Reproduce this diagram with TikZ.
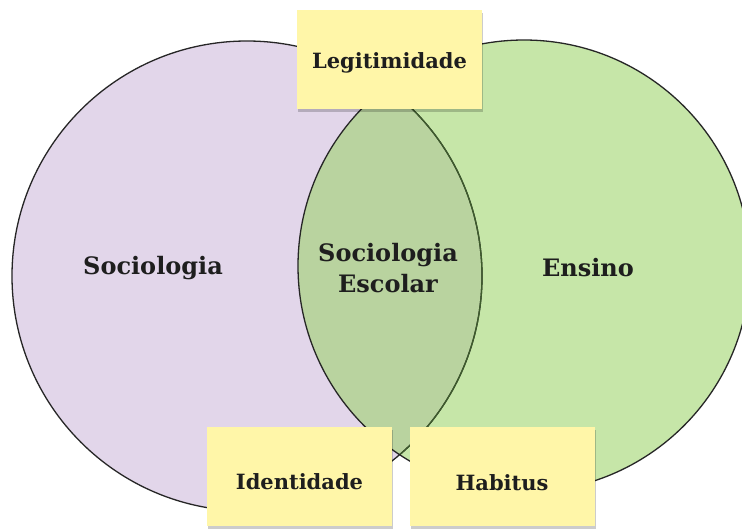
\documentclass[tikz,border=0pt]{standalone}
\usepackage{fontspec}
\setmainfont{DejaVu Serif}
\usetikzlibrary{shadows}
\definecolor{purp}{HTML}{E2D6EA}
\definecolor{grn}{HTML}{C6E6A8}
\definecolor{lensc}{HTML}{B9D39F}
\definecolor{notec}{HTML}{FFF6A8}
\definecolor{dkgrn}{HTML}{3E5C2C}
\definecolor{txt}{HTML}{1E1E1E}
\tikzset{
  outline/.style={line width=1.3pt, draw=black!85},
  lbl/.style={font=\bfseries\fontsize{24}{30}\selectfont, text=txt, align=center},
  notebox/.style={fill=notec, minimum width=185pt, minimum height=99pt, inner sep=0pt,
    drop shadow={shadow xshift=1pt, shadow yshift=-3pt, opacity=0.2, fill=black}},
  notetext/.style={font=\bfseries\fontsize{21}{26}\selectfont, text=txt}
}
\begin{document}
\begin{tikzpicture}[x=1pt,y=-1pt]
\useasboundingbox (0,0) rectangle (742,528);
\fill[white] (0,0) rectangle (742,528);
\coordinate (cL) at (247,276);
\coordinate (cR) at (524,266);
% fills
\fill[purp] (cL) circle[radius=235pt];
\fill[grn] (cR) circle[radius=226pt];
\begin{scope}
  \clip (cL) circle[radius=235pt];
  \fill[lensc] (cR) circle[radius=226pt];
\end{scope}
% outlines
\draw[outline] (cL) circle[radius=235pt];
\begin{scope}
  \clip (cR) circle[radius=226pt];
  \draw[line width=1.3pt, draw=dkgrn] (cL) circle[radius=235pt];
\end{scope}
\draw[outline] (cR) circle[radius=226pt];
% labels
\node[lbl] (soc) at (153,268) {Sociologia};
\node[lbl] (ens) at (588,268) {Ensino};
\node[lbl] (socesc) at (388,268) {Sociologia\\[1pt]Escolar};
% sticky notes
\node[notebox] (leg) at (389.5,59.5) {};
\node[notebox] (ide) at (299.5,476.5) {};
\node[notebox] (hab) at (502,476.5) {};
\node[notetext] (legt) at ([yshift=-3pt]leg.center) {Legitimidade};
\node[notetext] (idet) at ([yshift=-5pt]ide.center) {Identidade};
\node[notetext] (habt) at ([yshift=-6pt]hab.center) {Habitus};
\end{tikzpicture}
\end{document}
